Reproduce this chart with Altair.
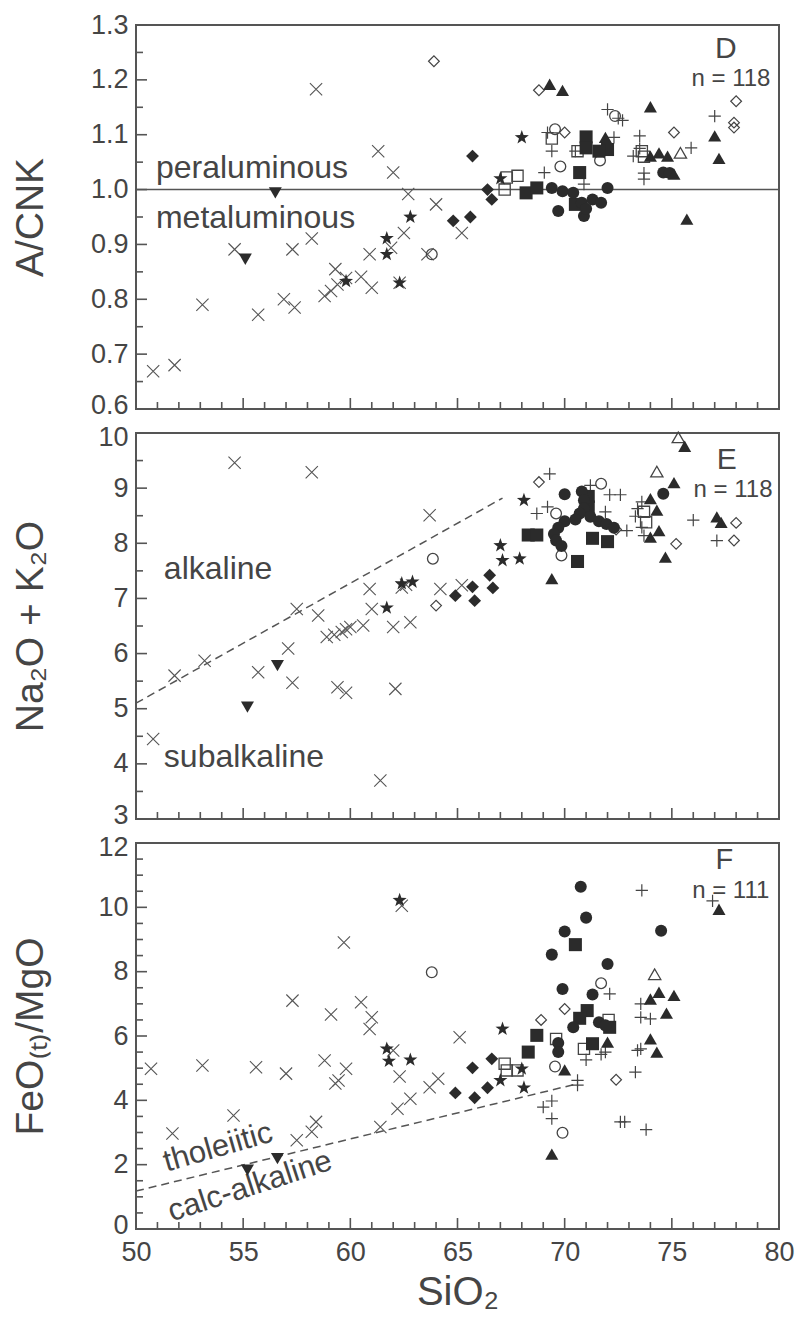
import altair as alt
import pandas as pd

# ------------------------------------------------------------------ data
# Panel D : A/CNK vs SiO2
D_XMARK = [(50.8, 0.669), (51.8, 0.68), (53.1, 0.79), (55.7, 0.772), (56.9, 0.80), (57.4, 0.785),
           (54.6, 0.891), (57.3, 0.891), (58.2, 0.911), (58.4, 1.183), (58.8, 0.806), (59.1, 0.815),
           (59.3, 0.855), (59.4, 0.827), (59.8, 0.839), (60.5, 0.841), (61.0, 0.821), (60.9, 0.882),
           (61.3, 1.07), (61.9, 0.894), (62.0, 1.031), (62.3, 0.83), (62.5, 0.921), (62.7, 0.992),
           (63.6, 0.882), (64.0, 0.973), (65.2, 0.921)]
D_TRIDOWN = [(56.5, 0.994), (55.1, 0.873)]
D_STAR = [(62.8, 0.95), (61.7, 0.911), (61.7, 0.882), (59.8, 0.833), (62.3, 0.83), (67.0, 1.02), (68.0, 1.095)]
D_DIAMOND = [(65.7, 1.061), (64.8, 0.943), (65.6, 0.95), (66.4, 1.0), (66.6, 0.982)]
D_ODIAMOND = [(63.9, 1.234), (68.8, 1.181), (70.0, 1.104), (75.1, 1.104), (78.0, 1.161), (77.9, 1.122), (77.9, 1.113)]
D_OCIRCLE = [(63.8, 0.882), (69.55, 1.11), (72.35, 1.134), (69.8, 1.042), (71.65, 1.053)]
D_OSQUARE = [(69.4, 1.093), (70.6, 1.07), (67.3, 1.022), (67.8, 1.025), (67.2, 1.0), (73.6, 1.07), (73.7, 1.06)]
D_SQUARE = [(71.0, 1.096), (71.0, 1.076), (72.0, 1.073), (71.6, 1.07), (70.7, 1.031), (68.2, 0.994),
            (68.7, 1.003), (70.5, 0.973)]
D_CIRCLE = [(69.4, 1.003), (69.9, 0.997), (70.4, 0.994), (69.7, 0.961), (70.8, 0.976), (70.9, 0.952),
            (71.0, 0.965), (71.3, 0.982), (71.7, 0.976), (72.0, 1.003), (74.6, 1.031), (74.9, 1.03)]
D_PLUS = [(72.0, 1.146), (72.5, 1.13), (72.7, 1.126), (77.0, 1.134), (75.9, 1.076), (69.2, 1.104),
          (69.4, 1.07), (72.3, 1.095), (70.5, 1.07), (73.5, 1.098), (73.5, 1.075), (73.2, 1.061),
          (73.7, 1.03), (73.7, 1.019), (69.05, 1.031), (70.9, 1.01)]
D_TRI = [(69.3, 1.192), (69.9, 1.181), (74.0, 1.151), (77.0, 1.098), (77.2, 1.057), (71.9, 1.095),
         (74.0, 1.061), (74.4, 1.067), (74.8, 1.061), (75.1, 1.028), (75.7, 0.946)]
D_OTRI = [(75.4, 1.067)]

# Panel E : Na2O + K2O vs SiO2
E_XMARK = [(54.6, 9.46), (58.2, 9.29), (63.7, 8.51), (62.4, 7.2), (62.6, 7.25), (60.9, 7.17), (64.2, 7.17),
           (65.2, 7.24), (61.0, 6.81), (57.5, 6.81), (58.5, 6.69), (62.8, 6.57), (62.0, 6.48), (58.9, 6.30),
           (59.25, 6.34), (59.6, 6.39), (59.8, 6.44), (60.0, 6.48), (60.6, 6.51), (57.1, 6.09), (53.2, 5.87),
           (51.8, 5.60), (55.7, 5.66), (57.3, 5.47), (59.4, 5.39), (59.8, 5.29), (62.1, 5.36), (50.8, 4.45),
           (61.4, 3.70)]
E_TRIDOWN = [(56.6, 5.78), (55.2, 5.03)]
E_STAR = [(62.4, 7.27), (62.9, 7.30), (61.7, 6.83), (68.1, 8.78), (67.0, 7.96), (67.1, 7.69), (67.9, 7.72)]
E_DIAMOND = [(64.9, 7.05), (66.5, 7.42), (66.65, 7.19), (65.7, 7.21), (65.8, 6.96)]
E_ODIAMOND = [(64.0, 6.87), (68.8, 9.11), (72.4, 8.25), (75.2, 7.99), (78.0, 8.37), (77.9, 8.05)]
E_OCIRCLE = [(63.85, 7.72), (71.7, 9.08), (69.6, 8.54), (69.85, 7.78)]
E_OSQUARE = [(73.7, 8.57), (73.8, 8.38)]
E_SQUARE = [(71.1, 8.85), (71.1, 8.66), (68.3, 8.15), (68.7, 8.15), (71.3, 8.09), (72.0, 8.03), (70.6, 7.67)]
E_CIRCLE = [(70.0, 8.89), (70.8, 8.94), (70.9, 8.78), (70.9, 8.63), (70.7, 8.54), (70.5, 8.43), (70.0, 8.40),
            (69.7, 8.28), (69.5, 8.17), (69.6, 8.05), (69.85, 7.95), (71.2, 8.48), (71.6, 8.40), (71.95, 8.35),
            (72.3, 8.28), (74.6, 8.90)]
E_PLUS = [(69.3, 9.26), (71.2, 9.05), (72.1, 8.88), (72.6, 8.88), (68.7, 8.54), (69.2, 8.66), (71.9, 8.57),
          (72.9, 8.23), (73.6, 8.75), (73.4, 8.63), (73.3, 8.49), (73.6, 8.29), (73.7, 8.14), (76.0, 8.42),
          (77.1, 8.05)]
E_TRI = [(75.6, 9.76), (75.1, 9.10), (69.4, 7.36), (74.0, 8.81), (74.3, 8.60), (74.0, 8.11), (74.4, 8.23),
         (74.7, 7.75), (77.1, 8.48), (77.3, 8.38)]
E_OTRI = [(75.3, 9.92), (74.3, 9.30)]

# Panel F : FeO(t)/MgO vs SiO2
F_XMARK = [(62.4, 10.05), (59.7, 8.91), (57.3, 7.10), (60.5, 7.05), (59.1, 6.67), (61.0, 6.58), (60.9, 6.22),
           (65.1, 5.96), (62.0, 5.55), (50.7, 4.98), (53.1, 5.08), (55.6, 5.03), (57.0, 4.83), (58.8, 5.24),
           (59.8, 4.98), (59.45, 4.62), (59.3, 4.52), (62.3, 4.74), (63.7, 4.41), (64.1, 4.67), (62.8, 4.05),
           (62.2, 3.74), (54.55, 3.53), (51.7, 2.97), (58.4, 3.33), (58.2, 3.02), (57.5, 2.76), (61.4, 3.17)]
F_TRIDOWN = [(55.2, 1.83), (56.6, 2.19)]
F_STAR = [(62.3, 10.22), (61.7, 5.60), (61.8, 5.22), (62.8, 5.26), (67.1, 6.22), (68.0, 4.98), (67.0, 4.62),
          (68.1, 4.39)]
F_DIAMOND = [(64.9, 4.23), (66.6, 5.29), (65.7, 5.01), (66.4, 4.39), (65.8, 4.08)]
F_ODIAMOND = [(70.0, 6.84), (68.9, 6.50), (72.4, 4.64)]
F_OCIRCLE = [(63.8, 7.98), (71.7, 7.64), (69.55, 5.05), (69.9, 2.99)]
F_OSQUARE = [(72.05, 6.50), (69.6, 5.91), (70.9, 5.60), (67.2, 5.14), (67.3, 4.93), (67.8, 4.93)]
F_SQUARE = [(70.5, 8.84), (71.05, 6.79), (70.7, 6.55), (72.1, 6.27), (68.7, 6.02), (68.3, 5.50), (71.3, 5.76)]
F_CIRCLE = [(70.75, 10.64), (71.0, 9.68), (70.0, 9.25), (74.5, 9.27), (69.4, 8.53), (72.0, 8.24), (69.9, 7.46),
            (71.3, 7.29), (70.4, 6.27), (71.6, 6.43), (71.9, 6.33), (69.7, 5.78), (69.7, 5.50)]
F_PLUS = [(73.6, 10.53), (76.9, 10.20), (72.1, 7.31), (73.55, 7.0), (73.55, 6.58), (74.0, 6.53), (71.9, 5.50),
          (71.7, 5.43), (71.0, 5.26), (73.55, 5.60), (73.3, 4.88), (70.6, 4.62), (70.6, 4.47), (69.4, 3.98),
          (69.0, 3.79), (69.4, 3.43), (72.6, 3.33), (72.8, 3.33), (73.8, 3.09), (73.4, 5.55)]
F_TRI = [(77.2, 9.94), (74.0, 7.15), (74.4, 7.36), (75.1, 7.26), (74.75, 6.71), (72.0, 5.81), (74.0, 5.91),
         (74.3, 5.50), (70.0, 4.95), (69.4, 2.33)]
F_OTRI = [(74.2, 7.92)]

# boundary lines
D_LINE_Y = [1.0]
E_LINE_X = [50.0, 67.1]
E_LINE_Y = [5.1, 8.82]
F_LINE_X = [50.0, 70.5]
F_LINE_Y = [1.18, 4.5]

# axes ticks / labels
X_MAJOR = [50, 55, 60, 65, 70, 75, 80]
X_MINOR = [v for v in range(50, 81) if v % 5]
D_YMAJOR = [0.6, 0.7, 0.8, 0.9, 1.0, 1.1, 1.2, 1.3]
D_YMINOR = [0.65, 0.75, 0.85, 0.95, 1.05, 1.15, 1.25]
E_YMAJOR = [3, 4, 5, 6, 7, 8, 9, 10]
E_YMINOR = [3.5, 4.5, 5.5, 6.5, 7.5, 8.5, 9.5]
F_YMAJOR = [0, 2, 4, 6, 8, 10, 12]
F_YMINOR = [0.5, 1, 1.5, 2.5, 3, 3.5, 4.5, 5, 5.5, 6.5, 7, 7.5, 8.5, 9, 9.5, 10.5, 11, 11.5]

# ------------------------------------------------------------------ styles
FONT = "Liberation Sans"
INK = "#454545"
FRAME = "#555555"
DARK = "#2b2b2b"
W = 643

STAR = ("M0,-1L0.235,-0.324L0.951,-0.309L0.380,0.124L0.588,0.809L0,0.4L-0.588,0.809"
        "L-0.380,0.124L-0.951,-0.309L-0.235,-0.324Z")
XPATH = "M-1,-1L1,1M-1,1L1,-1"
PPATH = "M-1,0L1,0M0,-1L0,1"

STYLE = {
    "xmark": dict(shape=XPATH, filled=False, size=150, strokeWidth=1.1, color="#555555"),
    "tridown": dict(shape="triangle-down", filled=True, size=170, color=DARK),
    "star": dict(shape=STAR, filled=True, size=220, color=DARK),
    "diamond": dict(shape="diamond", filled=True, size=165, color=DARK),
    "odiamond": dict(shape="diamond", filled=False, size=115, strokeWidth=1.2, color="#444444"),
    "ocircle": dict(shape="circle", filled=False, size=115, strokeWidth=1.3, color="#444444"),
    "osquare": dict(shape="square", filled=False, size=125, strokeWidth=1.3, color="#444444"),
    "square": dict(shape="square", filled=True, size=170, color=DARK),
    "circle": dict(shape="circle", filled=True, size=145, color=DARK),
    "plus": dict(shape=PPATH, filled=False, size=150, strokeWidth=1.2, color="#444444"),
    "tri": dict(shape="triangle-up", filled=True, size=170, color=DARK),
    "otri": dict(shape="triangle-up", filled=False, size=150, strokeWidth=1.3, color="#444444"),
}
ORDER = ["xmark", "plus", "odiamond", "ocircle", "osquare", "otri", "tridown", "star", "diamond",
         "square", "circle", "tri"]


def pts(lst):
    return pd.DataFrame({"x": [p[0] for p in lst], "y": [p[1] for p in lst]})


def panel(groups, ydom, ymajor, yminor, yfmt, ytitle, H, show_x, lines, texts, loff):
    XS = alt.Scale(domain=[50, 80], nice=False, zero=False)
    YS = alt.Scale(domain=ydom, nice=False, zero=False)
    if show_x:
        xaxis = alt.Axis(values=X_MAJOR, ticks=False, domain=False, grid=False, labelFontSize=27,
                         labelFont=FONT, labelColor=INK, labelPadding=10, labelFlush=False,
                         title="SiO₂", titleFontSize=40, titleFont=FONT, titleColor=INK,
                         titleFontWeight="normal", titlePadding=7)
    else:
        xaxis = None
    yaxis = alt.Axis(values=ymajor, format=yfmt, ticks=False, domain=False, grid=False, labelFontSize=27,
                     labelFont=FONT, labelColor=INK, labelPadding=8, minExtent=50, maxExtent=50,
                     labelOffset={"expr": loff},
                     title=ytitle, titleFontSize=39, titleFont=FONT, titleColor=INK,
                     titleFontWeight="normal", titlePadding=36)

    def X(f):
        return alt.X(f, type="quantitative", scale=XS, axis=xaxis)

    def Y(f):
        return alt.Y(f, type="quantitative", scale=YS, axis=yaxis)

    layers = []
    # inward ticks
    layers.append(alt.Chart(pd.DataFrame({"v": ymajor})).mark_rule(color=FRAME, strokeWidth=1.6)
                  .encode(y=Y("v"), x=alt.value(0), x2=alt.value(11)))
    layers.append(alt.Chart(pd.DataFrame({"v": yminor})).mark_rule(color=FRAME, strokeWidth=1.6)
                  .encode(y=Y("v"), x=alt.value(0), x2=alt.value(7)))
    layers.append(alt.Chart(pd.DataFrame({"v": X_MAJOR})).mark_rule(color=FRAME, strokeWidth=1.6)
                  .encode(x=X("v"), y=alt.value(H), y2=alt.value(H - 11)))
    layers.append(alt.Chart(pd.DataFrame({"v": X_MINOR})).mark_rule(color=FRAME, strokeWidth=1.6)
                  .encode(x=X("v"), y=alt.value(H), y2=alt.value(H - 7)))
    layers.extend(lines(X, Y))
    for t in texts:
        df = pd.DataFrame({"x": [t["x"]], "y": [t["y"]], "t": [t["t"]]})
        layers.append(alt.Chart(df).mark_text(font=FONT, color=INK, fontSize=t["fs"], align=t["align"],
                                              baseline="alphabetic", angle=t.get("angle", 0))
                      .encode(x=X("x"), y=Y("y"), text="t:N"))
    for k in ORDER:
        data = groups.get(k, [])
        if not data:
            continue
        st = dict(STYLE[k])
        layers.append(alt.Chart(pts(data)).mark_point(opacity=1, **st).encode(x=X("x"), y=Y("y")))
    return alt.layer(*layers).properties(width=W, height=H)


def d_lines(X, Y):
    return [alt.Chart(pd.DataFrame({"y": D_LINE_Y})).mark_rule(color=FRAME, strokeWidth=1.6)
            .encode(y=Y("y"))]


def e_lines(X, Y):
    return [alt.Chart(pd.DataFrame({"x": E_LINE_X, "y": E_LINE_Y}))
            .mark_line(color=FRAME, strokeWidth=1.5, strokeDash=[8, 5]).encode(x=X("x"), y=Y("y"))]


def f_lines(X, Y):
    return [alt.Chart(pd.DataFrame({"x": F_LINE_X, "y": F_LINE_Y}))
            .mark_line(color=FRAME, strokeWidth=1.5, strokeDash=[8, 5]).encode(x=X("x"), y=Y("y"))]


pD = panel(
    {"xmark": D_XMARK, "tridown": D_TRIDOWN, "star": D_STAR, "diamond": D_DIAMOND, "odiamond": D_ODIAMOND,
     "ocircle": D_OCIRCLE, "osquare": D_OSQUARE, "square": D_SQUARE, "circle": D_CIRCLE, "plus": D_PLUS,
     "tri": D_TRI, "otri": D_OTRI},
    [0.6, 1.3], D_YMAJOR, D_YMINOR, ".1f", "A/CNK", 384, False, d_lines,
    [dict(x=50.93, y=1.021, t="peraluminous", fs=32, align="left"),
     dict(x=50.93, y=0.930, t="metaluminous", fs=32, align="left"),
     dict(x=77.52, y=1.240, t="D", fs=30, align="center"),
     dict(x=79.6, y=1.189, t="n = 118", fs=24, align="right")],
    "datum.value < 0.65 ? -4 : 0")

pE = panel(
    {"xmark": E_XMARK, "tridown": E_TRIDOWN, "star": E_STAR, "diamond": E_DIAMOND, "odiamond": E_ODIAMOND,
     "ocircle": E_OCIRCLE, "osquare": E_OSQUARE, "square": E_SQUARE, "circle": E_CIRCLE, "plus": E_PLUS,
     "tri": E_TRI, "otri": E_OTRI},
    [3, 10], E_YMAJOR, E_YMINOR, "d", "Na₂O + K₂O", 386, False, e_lines,
    [dict(x=51.3, y=7.36, t="alkaline", fs=32, align="left"),
     dict(x=51.3, y=3.94, t="subalkaline", fs=32, align="left"),
     dict(x=77.56, y=9.35, t="E", fs=30, align="center"),
     dict(x=79.7, y=8.84, t="n = 118", fs=24, align="right")],
    "datum.value > 9.5 ? 4 : (datum.value < 3.5 ? -4 : 0)")

pF = panel(
    {"xmark": F_XMARK, "tridown": F_TRIDOWN, "star": F_STAR, "diamond": F_DIAMOND, "odiamond": F_ODIAMOND,
     "ocircle": F_OCIRCLE, "osquare": F_OSQUARE, "square": F_SQUARE, "circle": F_CIRCLE, "plus": F_PLUS,
     "tri": F_TRI, "otri": F_OTRI},
    [0, 12], F_YMAJOR, F_YMINOR, "d", "FeO₍ₜ₎/MgO", 386, True, f_lines,
    [dict(x=51.43, y=1.78, t="tholeiitic", fs=31, align="left", angle=344),
     dict(x=51.67, y=0.23, t="calc-alkaline", fs=31, align="left", angle=342),
     dict(x=77.45, y=11.2, t="F", fs=29, align="center"),
     dict(x=79.55, y=10.28, t="n = 111", fs=24, align="right")],
    "datum.value > 11.5 ? 4 : (datum.value < 0.5 ? -4 : 0)")

chart = (alt.vconcat(pD, pE, pF, spacing=24, bounds="flush")
         .properties(padding={"left": 10, "top": 10, "right": 0, "bottom": 0}, background="white")
         .configure_view(stroke=FRAME, strokeWidth=2))

chart.save("out.html", embed_options={"renderer": "svg", "actions": False})
